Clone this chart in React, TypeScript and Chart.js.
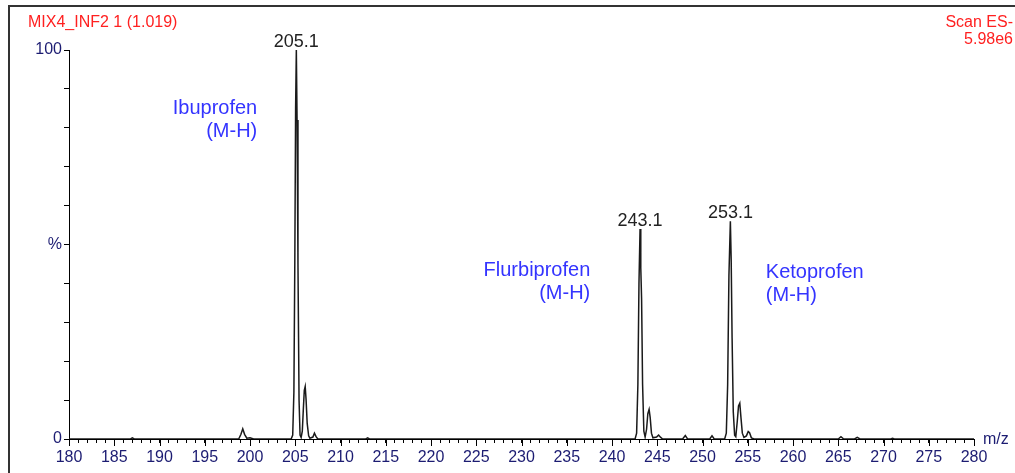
import React, { useEffect, useRef } from 'react';
import { Chart, registerables } from 'chart.js';

Chart.register(...registerables);

// ---- spectrum profile (m/z vs relative intensity %) ----
const lowMassMz = [180, 186.8, 187, 187.2, 198.75, 199.0, 199.2, 199.4, 199.65, 200.0, 200.4];
const lowMassInt = [0, 0, 0.3, 0, 0, 1.2, 2.6, 1.2, 0.2, 0.3, 0];

const ibuprofenMz = [204.55, 204.72, 204.85, 204.95, 205.04, 205.12, 205.2, 205.3, 205.42, 205.53, 205.65, 205.78, 205.9, 206.0, 206.1, 206.2, 206.32, 206.48, 206.62, 206.95, 207.12, 207.3, 207.5, 212.8, 213, 213.2];
const ibuprofenInt = [0, 1, 12, 45, 85, 100, 82, 45, 10, 1, 0.4, 2, 8, 12.5, 13.5, 10, 4, 0.8, 0.2, 0.5, 1.5, 0.6, 0, 0, 0.3, 0];

const flurbiprofenMz = [242.55, 242.72, 242.86, 242.98, 243.1, 243.18, 243.27, 243.38, 243.52, 243.66, 243.82, 243.96, 244.1, 244.22, 244.36, 244.52, 244.92, 245.15, 245.38, 245.6, 247.8, 248.1, 248.35, 250.8, 251.05, 251.3];
const flurbiprofenInt = [0, 1.5, 14, 40, 54, 44, 36, 14, 2, 0.5, 2.5, 6.5, 7.6, 5.5, 1.5, 0.3, 0.5, 1.0, 0.4, 0, 0, 0.9, 0, 0, 0.8, 0];

const ketoprofenMz = [252.45, 252.63, 252.78, 252.92, 253.08, 253.17, 253.27, 253.4, 253.55, 253.68, 253.84, 253.98, 254.12, 254.25, 254.4, 254.58, 254.85, 255.05, 255.2, 255.4, 255.7];
const ketoprofenInt = [0, 1.5, 14, 42, 56, 46, 26, 7, 1, 0.6, 4.5, 8.5, 9.2, 5.5, 1.5, 0.4, 0.8, 1.9, 1.6, 0.3, 0];

const highMassMz = [265.0, 265.3, 265.6, 266.8, 267.1, 267.4, 270.8, 271, 271.2, 280];
const highMassInt = [0, 0.6, 0, 0, 0.4, 0, 0, 0.2, 0, 0];

// ---- peak labels ----
const peakLabels = ['205.1', '243.1', '253.1'];
const peakMz = [205.1, 243.1, 253.1];
const peakInt = [100, 54, 56];

// ---- compound annotations ----
const compoundNames = ['Ibuprofen', 'Flurbiprofen', 'Ketoprofen'];
const compoundIons = ['(M-H)', '(M-H)', '(M-H)'];
const compoundMz = [200.8, 237.6, 257.0];
const compoundInt = [85, 43.2, 42.7];
const compoundAlign = ['right', 'right', 'left'];

// ---- axis / header text ----
const xMin = 180;
const xMax = 280;
const yMin = 0;
const yMax = 100;
const yTickLabels: Record<number, string> = { 0: '0', 50: '%', 100: '100' };
const titleLeft = 'MIX4_INF2 1 (1.019)';
const titleRight = ['Scan ES-', '5.98e6'];
const xAxisName = 'm/z';

const FONT = '"Liberation Sans", Arial, Helvetica, sans-serif';
const NAVY = '#1c1c72';

function buildPoints() {
  const segs: [number[], number[]][] = [
    [lowMassMz, lowMassInt],
    [ibuprofenMz, ibuprofenInt],
    [flurbiprofenMz, flurbiprofenInt],
    [ketoprofenMz, ketoprofenInt],
    [highMassMz, highMassInt],
  ];
  const pts: { x: number; y: number }[] = [];
  segs.forEach(([xs, ys]) => xs.forEach((x, i) => pts.push({ x, y: ys[i] })));
  pts.sort((a, b) => a.x - b.x);
  return pts;
}

const decorPlugin = {
  id: 'decor',
  afterDraw(chart: any) {
    const ctx = chart.ctx as CanvasRenderingContext2D;
    const xs = chart.scales.x;
    const ys = chart.scales.y;
    const area = chart.chartArea;
    ctx.save();

    // frame
    ctx.strokeStyle = '#333';
    ctx.lineWidth = 2;
    ctx.beginPath();
    ctx.moveTo(9, 480);
    ctx.lineTo(9, 6);
    ctx.lineTo(1020, 6);
    ctx.stroke();

    // longer major ticks on x axis
    ctx.strokeStyle = '#000';
    ctx.lineWidth = 1;
    ctx.beginPath();
    for (let v = xMin; v <= xMax; v += 5) {
      const px = Math.round(xs.getPixelForValue(v)) + 0.5;
      ctx.moveTo(px, area.bottom);
      ctx.lineTo(px, area.bottom + 7);
    }
    ctx.stroke();

    // header texts
    ctx.fillStyle = '#ff2020';
    ctx.font = `16px ${FONT}`;
    ctx.textBaseline = 'middle';
    ctx.textAlign = 'left';
    ctx.fillText(titleLeft, 28, 23);
    ctx.textAlign = 'right';
    ctx.fillText(titleRight[0], 1013, 23);
    ctx.fillText(titleRight[1], 1013, 40);

    // m/z
    ctx.fillStyle = NAVY;
    ctx.textAlign = 'left';
    ctx.font = `16px ${FONT}`;
    ctx.fillText(xAxisName, area.right + 9, area.bottom + 1);

    // peak labels
    ctx.fillStyle = '#222';
    ctx.font = `18px ${FONT}`;
    ctx.textAlign = 'center';
    ctx.textBaseline = 'alphabetic';
    peakLabels.forEach((t, i) => {
      const px = xs.getPixelForValue(peakMz[i]);
      const py = ys.getPixelForValue(peakInt[i]);
      ctx.fillText(t, px, py - 3);
    });

    // compound labels
    ctx.fillStyle = '#3434ff';
    ctx.font = `20px ${FONT}`;
    ctx.textBaseline = 'middle';
    compoundNames.forEach((t, i) => {
      const px = xs.getPixelForValue(compoundMz[i]);
      const py = ys.getPixelForValue(compoundInt[i]);
      ctx.textAlign = compoundAlign[i] as CanvasTextAlign;
      ctx.fillText(t, px, py);
      ctx.fillText(compoundIons[i], px, py + 23);
    });

    ctx.restore();
  },
};

export default function App() {
  const ref = useRef<HTMLCanvasElement | null>(null);

  useEffect(() => {
    if (!ref.current) return;
    const chart = new Chart(ref.current, {
      type: 'line',
      data: {
        datasets: [
          {
            data: buildPoints(),
            borderColor: '#1a1a1a',
            borderWidth: 1.5,
            pointRadius: 0,
            tension: 0,
            fill: false,
          },
        ],
      },
      options: {
        animation: false,
        responsive: false,
        maintainAspectRatio: false,
        devicePixelRatio: 1,
        layout: { padding: { left: 0, right: 41, top: 50, bottom: 0 } },
        plugins: {
          legend: { display: false },
          tooltip: { enabled: false },
          title: { display: false },
        },
        scales: {
          x: {
            type: 'linear',
            min: xMin,
            max: xMax,
            afterFit: (s: any) => {
              s.height = 34;
            },
            border: { display: true, color: '#000', width: 1 },
            grid: {
              display: true,
              drawOnChartArea: false,
              drawTicks: true,
              tickLength: 4,
              color: '#000',
              lineWidth: 1,
            },
            ticks: {
              stepSize: 1,
              autoSkip: false,
              maxRotation: 0,
              minRotation: 0,
              padding: 5,
              color: NAVY,
              font: { family: FONT, size: 16 },
              callback: (v: any) => (Number(v) % 5 === 0 ? String(v) : ''),
            },
          },
          y: {
            min: yMin,
            max: yMax,
            afterFit: (s: any) => {
              s.width = 69;
            },
            border: { display: true, color: '#000', width: 1 },
            grid: {
              display: true,
              drawOnChartArea: false,
              drawTicks: true,
              tickLength: 5,
              color: '#000',
              lineWidth: 1,
            },
            ticks: {
              stepSize: 10,
              autoSkip: false,
              padding: 2,
              color: NAVY,
              font: { family: FONT, size: 16 },
              callback: (v: any) => yTickLabels[Number(v)] ?? '',
            },
          },
        },
      } as any,
      plugins: [decorPlugin],
    });
    return () => chart.destroy();
  }, []);

  return (
    <div style={{ position: 'fixed', left: 0, top: 0, width: 1015, height: 473, background: '#fff' }}>
      <canvas ref={ref} width={1015} height={473} style={{ display: 'block', width: 1015, height: 473 }} />
    </div>
  );
}
